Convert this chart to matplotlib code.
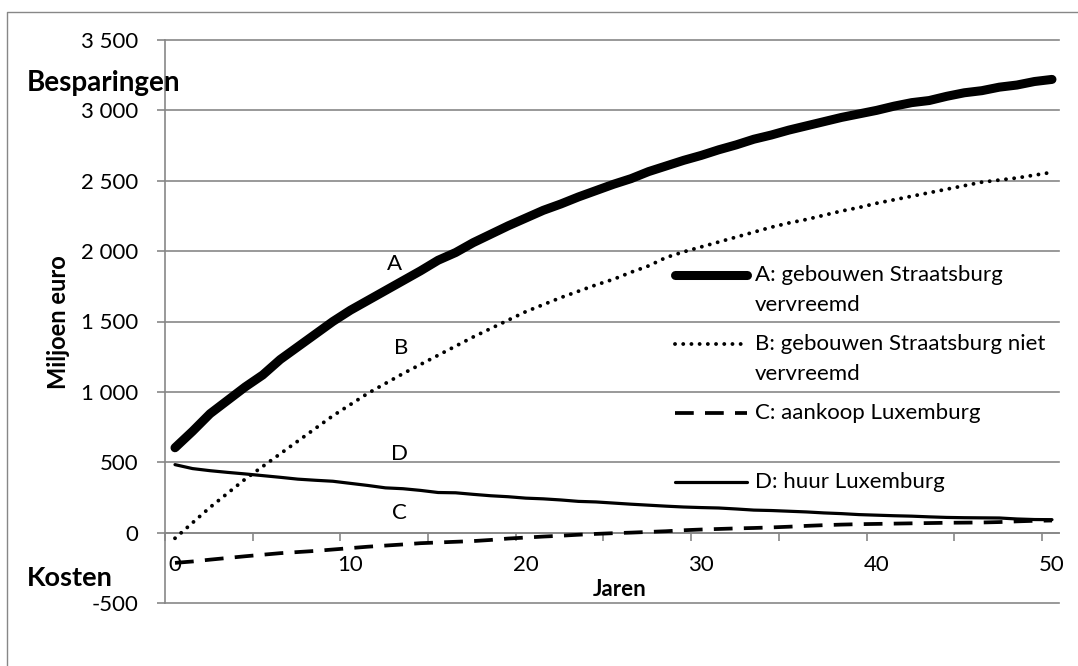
import numpy as np
import matplotlib
matplotlib.use("Agg")
import matplotlib.pyplot as plt
from matplotlib.ticker import FuncFormatter
from matplotlib.lines import Line2D

plt.rcParams['font.family'] = ['Lato', 'DejaVu Sans']

#Years and savings (+) / costs (-) per scenario, million euro
jaren = list(range(51))
a_vervreemd = [603, 720, 845, 940, 1035, 1120, 1230, 1320, 1410, 1500,
               1580, 1650, 1720, 1790, 1860, 1935, 1990, 2060, 2120, 2180,
               2235, 2290, 2335, 2385, 2430, 2475, 2515, 2565, 2605, 2645,
               2680, 2720, 2755, 2795, 2825, 2860, 2890, 2920, 2950, 2975,
               3000, 3030, 3055, 3070, 3100, 3125, 3140, 3165, 3180, 3205,
               3220]
b_niet_vervreemd = [-40, 70, 180, 280, 380, 470, 560, 650, 740, 830,
                    910, 990, 1060, 1130, 1195, 1260, 1325, 1390, 1450, 1510,
                    1570, 1620, 1670, 1715, 1760, 1800, 1850, 1895, 1955, 1995,
                    2030, 2065, 2100, 2135, 2170, 2200, 2225, 2255, 2285, 2310,
                    2340, 2365, 2390, 2415, 2440, 2465, 2490, 2505, 2520, 2540,
                    2560]
c_aankoop = [-215, -205, -192, -180, -168, -157, -146, -138, -130, -120,
             -110, -100, -92, -84, -75, -70, -65, -60, -52, -42,
             -35, -28, -22, -15, -9, -4, 0, 5, 10, 17,
             22, 26, 30, 33, 37, 42, 48, 53, 57, 60,
             62, 64, 66, 68, 70, 71, 72, 75, 80, 84,
             86]
d_huur = [483, 455, 440, 428, 417, 405, 393, 380, 372, 365,
          350, 335, 318, 312, 300, 285, 283, 272, 262, 255,
          245, 240, 232, 222, 218, 210, 202, 195, 188, 182,
          178, 175, 168, 160, 157, 152, 147, 140, 135, 128,
          124, 120, 117, 112, 108, 106, 105, 104, 97, 93,
          92]

labels = ["A: gebouwen Straatsburg\nvervreemd",
          "B: gebouwen Straatsburg niet\nvervreemd",
          "C: aankoop Luxemburg",
          "D: huur Luxemburg"]
x_ticks = [0, 10, 20, 30, 40, 50]
y_ticks = [-500, 0, 500, 1000, 1500, 2000, 2500, 3000, 3500]

GRID = "#878787"
FS = 16

#Line styles per series
styles = [
    dict(color="k", lw=6.5, ls="-", solid_capstyle="round"),
    dict(color="k", lw=2.8, ls=(0, (0.01, 2.1)), dash_capstyle="round"),
    dict(color="k", lw=2.7, ls=(0, (5.0, 3.0)), dash_capstyle="butt"),
    dict(color="k", lw=2.3, ls="-", solid_capstyle="round"),
]
series = [a_vervreemd, b_niet_vervreemd, c_aankoop, d_huur]

fig = plt.figure(figsize=(10.78, 6.66), dpi=100)
#chart border, only top and left fall inside the canvas
fig.add_artist(Line2D([7/1078, 7/1078, 1.0], [0.0, 1 - 12/666, 1 - 12/666],
                      transform=fig.transFigure, color=GRID, lw=1.0))

ax = fig.add_axes([165/1078, 1 - 603/666, 894/1078, 563/666])
ax.set_xlim(-0.57, 50.40)
ax.set_ylim(-500, 3500)

for vals, st in zip(series, styles):
    ax.plot(jaren, vals, zorder=3, **st)

#Axes styling
for s in ["top", "right"]:
    ax.spines[s].set_visible(False)
ax.spines["bottom"].set_position(("data", 0))
ax.spines["bottom"].set_color(GRID)
ax.spines["left"].set_color(GRID)
ax.spines["bottom"].set_linewidth(1.2)
ax.spines["left"].set_linewidth(1.2)

ax.set_yticks(y_ticks)
ax.yaxis.set_major_formatter(FuncFormatter(
    lambda v, _: f"{int(v):,}".replace(",", " ")))
ax.tick_params(axis="y", length=6, width=1.2, color=GRID, pad=13,
               labelsize=FS)
ax.yaxis.grid(True, color=GRID, lw=1.2)
for gl in ax.get_ygridlines():
    gl.set_clip_on(False)

ax.set_xticks(x_ticks)
ax.set_xticks([-0.57 + 5 * k for k in range(11)], minor=True)
ax.tick_params(axis="x", which="major", length=0, pad=16, labelsize=FS)
ax.tick_params(axis="x", which="minor", length=6, width=1.2, color=GRID,
               direction="out")

ax.text(0.509, -480, "Jaren", ha="center", va="bottom", fontsize=16,
        fontweight="bold", transform=ax.get_yaxis_transform())
fig.text(58/1078, 1 - 322/666, "Miljoen euro", rotation=90, ha="center",
         va="center", fontsize=17, fontweight="bold")
fig.text(27/1078, 1 - 83/666, "Besparingen", ha="left", va="center",
         fontsize=20, fontweight="bold")
fig.text(27/1078, 1 - 578/666, "Kosten", ha="left", va="center",
         fontsize=19.5, fontweight="bold")

#Series letters beside the curves
for letter, (x, y) in zip("ABDC", [(12.5, 1910), (12.9, 1313),
                                   (12.8, 561), (12.8, 142)]):
    ax.text(x, y, letter, ha="center", va="center", fontsize=FS)

#Legend, handles aligned with the first text line
rows = [0.5826, 0.4600, 0.3375, 0.2149]
step = 30 / 563
for st, lab, yr in zip(styles, labels, rows):
    ax.plot([0.5705, 0.651], [yr, yr], transform=ax.transAxes, **st)
    for j, line in enumerate(lab.split("\n")):
        ax.text(0.660, yr - j * step, line, transform=ax.transAxes,
                ha="left", va="center", fontsize=FS)

fig.savefig("out.png", dpi=100)
